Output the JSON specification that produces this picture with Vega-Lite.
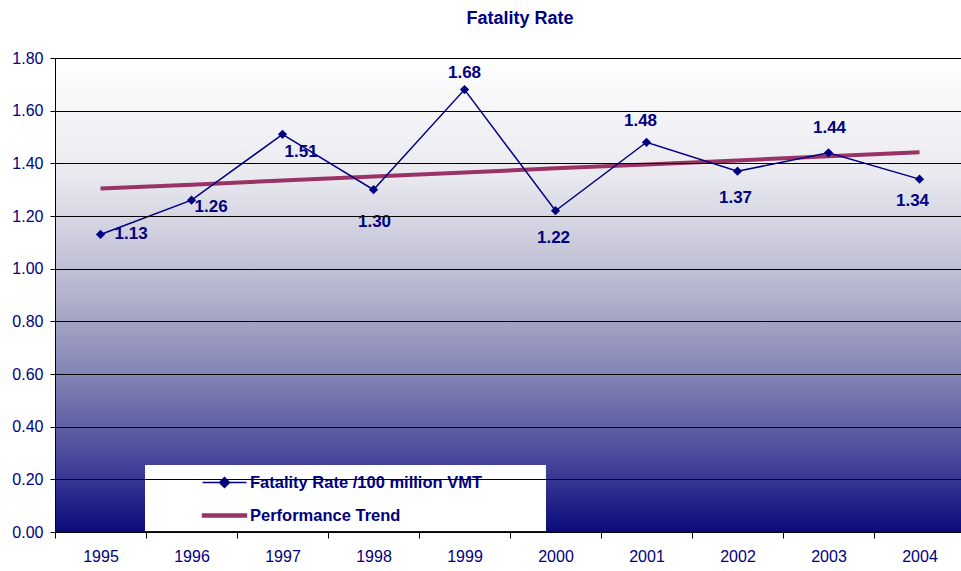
{
  "$schema": "https://vega.github.io/schema/vega-lite/v6.json",
  "width": 910,
  "height": 474,
  "autosize": {"type": "none"},
  "padding": {"left": 55, "top": 58, "right": 0, "bottom": 39},
  "background": "white",
  "title": {
    "text": "Fatality Rate",
    "font": "Liberation Sans",
    "fontSize": 18,
    "fontWeight": "bold",
    "color": "#000080",
    "anchor": "middle",
    "dx": 10,
    "offset": 22
  },
  "config": {
    "view": {"stroke": null},
    "font": "Liberation Sans"
  },
  "data": {
    "values": [
      {"year": "1995", "series": "Fatality Rate /100 million VMT", "value": 1.13},
      {"year": "1996", "series": "Fatality Rate /100 million VMT", "value": 1.26},
      {"year": "1997", "series": "Fatality Rate /100 million VMT", "value": 1.51},
      {"year": "1998", "series": "Fatality Rate /100 million VMT", "value": 1.30},
      {"year": "1999", "series": "Fatality Rate /100 million VMT", "value": 1.68},
      {"year": "2000", "series": "Fatality Rate /100 million VMT", "value": 1.22},
      {"year": "2001", "series": "Fatality Rate /100 million VMT", "value": 1.48},
      {"year": "2002", "series": "Fatality Rate /100 million VMT", "value": 1.37},
      {"year": "2003", "series": "Fatality Rate /100 million VMT", "value": 1.44},
      {"year": "2004", "series": "Fatality Rate /100 million VMT", "value": 1.34},
      {"year": "1995", "series": "Performance Trend", "value": 1.304},
      {"year": "1996", "series": "Performance Trend", "value": 1.319},
      {"year": "1997", "series": "Performance Trend", "value": 1.335},
      {"year": "1998", "series": "Performance Trend", "value": 1.350},
      {"year": "1999", "series": "Performance Trend", "value": 1.365},
      {"year": "2000", "series": "Performance Trend", "value": 1.381},
      {"year": "2001", "series": "Performance Trend", "value": 1.396},
      {"year": "2002", "series": "Performance Trend", "value": 1.411},
      {"year": "2003", "series": "Performance Trend", "value": 1.427},
      {"year": "2004", "series": "Performance Trend", "value": 1.442}
    ]
  },
  "encoding": {
    "x": {
      "field": "year",
      "type": "ordinal",
      "scale": {"type": "band", "paddingInner": 0, "paddingOuter": 0},
      "axis": {
        "title": null,
        "labelAngle": 0,
        "tickBand": "extent",
        "tickSize": 6,
        "tickColor": "black",
        "domainColor": "black",
        "labelFont": "Liberation Sans",
        "labelFontSize": 16,
        "labelColor": "#000080",
        "labelPadding": 10,
        "grid": false,
        "zindex": 1
      }
    },
    "y": {
      "field": "value",
      "type": "quantitative",
      "scale": {"domain": [0, 1.8], "nice": false, "zero": true},
      "axis": {
        "title": null,
        "values": [0, 0.2, 0.4, 0.6, 0.8, 1.0, 1.2, 1.4, 1.6, 1.8],
        "format": ".2f",
        "grid": true,
        "gridColor": "black",
        "gridOpacity": 1,
        "gridWidth": 1,
        "tickSize": 5,
        "tickColor": "black",
        "domainColor": "black",
        "labelFont": "Liberation Sans",
        "labelFontSize": 16,
        "labelColor": "#000080",
        "labelPadding": 7,
        "zindex": 1
      }
    }
  },
  "layer": [
    {
      "data": {"values": [{"lo": 0, "hi": 1.8}]},
      "mark": {
        "type": "rect",
        "fill": {
          "gradient": "linear",
          "x1": 0, "y1": 0, "x2": 0, "y2": 1,
          "stops": [
            {"offset": 0, "color": "#ffffff"},
            {"offset": 0.25, "color": "#e9e9ef"},
            {"offset": 0.5, "color": "#b3b3cd"},
            {"offset": 0.7, "color": "#7a7ab0"},
            {"offset": 0.85, "color": "#46469b"},
            {"offset": 1, "color": "#0a0a7c"}
          ]
        }
      },
      "encoding": {
        "x": null,
        "y": {"field": "lo", "type": "quantitative"},
        "y2": {"field": "hi"}
      }
    },
    {
      "transform": [{"filter": "datum.series === 'Performance Trend'"}],
      "mark": {"type": "line", "strokeWidth": 4},
      "encoding": {
        "color": {
          "field": "series",
          "type": "nominal",
          "scale": {"domain": ["Fatality Rate /100 million VMT", "Performance Trend"], "range": ["#000080", "#993366"]},
          "legend": {
            "title": null,
            "orient": "none",
            "legendX": 90,
            "legendY": 407,
            "fillColor": "white",
            "padding": 0,
            "rowPadding": 0,
            "symbolSize": 1089,
            "symbolOffset": 62,
            "labelOffset": 8,
            "labelFont": "Liberation Sans",
            "labelFontSize": 16.5,
            "labelFontWeight": "bold",
            "labelColor": "#000080",
            "labelLimit": 500,
            "encode": {
              "symbols": {
                "update": {
                  "shape": {"signal": "datum.value === 'Performance Trend' ? 'M-1.33,-0.09H1.33V0.09H-1.33ZM0,-0.72M0,0.72M19.3,0' : 'M-1.33,0H1.33M0,-0.3L0.3,0L0,0.3L-0.3,0ZM0,-0.72M0,0.72M19.3,0'"},
                  "fill": {"signal": "datum.value === 'Performance Trend' ? '#993366' : '#000080'"},
                  "stroke": {"signal": "datum.value === 'Performance Trend' ? '#993366' : '#000080'"},
                  "strokeWidth": {"value": 1.5},
                  "size": {"value": 1089},
                  "opacity": {"value": 1},
                  "fillOpacity": {"value": 1}
                }
              }
            }
          }
        }
      }
    },
    {
      "transform": [{"filter": "datum.series === 'Fatality Rate /100 million VMT'"}],
      "mark": {"type": "line", "strokeWidth": 1.5},
      "encoding": {
        "color": {"field": "series", "type": "nominal"}
      }
    },
    {
      "transform": [{"filter": "datum.series === 'Fatality Rate /100 million VMT'"}],
      "mark": {"type": "point", "shape": "diamond", "filled": true, "size": 85, "color": "#000080", "opacity": 1}
    },
    {
      "transform": [{"filter": "datum.series === 'Fatality Rate /100 million VMT'"}],
      "encoding": {
        "text": {"field": "value", "type": "quantitative", "format": ".2f"}
      },
      "layer": [
        {
          "transform": [{"filter": "datum.year === '1995'"}],
          "mark": {"type": "text", "align": "left", "baseline": "middle", "dx": 14, "dy": 0, "font": "Liberation Sans", "fontSize": 17, "fontWeight": "bold", "color": "#000080"}
        },
        {
          "transform": [{"filter": "datum.year === '1996'"}],
          "mark": {"type": "text", "align": "left", "baseline": "middle", "dx": 3, "dy": 7, "font": "Liberation Sans", "fontSize": 17, "fontWeight": "bold", "color": "#000080"}
        },
        {
          "transform": [{"filter": "datum.year === '1997'"}],
          "mark": {"type": "text", "align": "left", "baseline": "middle", "dx": 2, "dy": 18, "font": "Liberation Sans", "fontSize": 17, "fontWeight": "bold", "color": "#000080"}
        },
        {
          "transform": [{"filter": "datum.year === '1998'"}],
          "mark": {"type": "text", "align": "center", "baseline": "middle", "dx": 1, "dy": 32, "font": "Liberation Sans", "fontSize": 17, "fontWeight": "bold", "color": "#000080"}
        },
        {
          "transform": [{"filter": "datum.year === '2000' || datum.year === '2002'"}],
          "mark": {"type": "text", "align": "center", "baseline": "middle", "dx": -2, "dy": 27, "font": "Liberation Sans", "fontSize": 17, "fontWeight": "bold", "color": "#000080"}
        },
        {
          "transform": [{"filter": "datum.year === '2004'"}],
          "mark": {"type": "text", "align": "center", "baseline": "middle", "dx": -7, "dy": 22, "font": "Liberation Sans", "fontSize": 17, "fontWeight": "bold", "color": "#000080"}
        },
        {
          "transform": [{"filter": "datum.year === '1999'"}],
          "mark": {"type": "text", "align": "center", "baseline": "middle", "dx": 0, "dy": -17, "font": "Liberation Sans", "fontSize": 17, "fontWeight": "bold", "color": "#000080"}
        },
        {
          "transform": [{"filter": "datum.year === '2001'"}],
          "mark": {"type": "text", "align": "center", "baseline": "middle", "dx": -6, "dy": -21, "font": "Liberation Sans", "fontSize": 17, "fontWeight": "bold", "color": "#000080"}
        },
        {
          "transform": [{"filter": "datum.year === '2003'"}],
          "mark": {"type": "text", "align": "center", "baseline": "middle", "dx": 1, "dy": -25, "font": "Liberation Sans", "fontSize": 17, "fontWeight": "bold", "color": "#000080"}
        }
      ]
    }
  ]
}
